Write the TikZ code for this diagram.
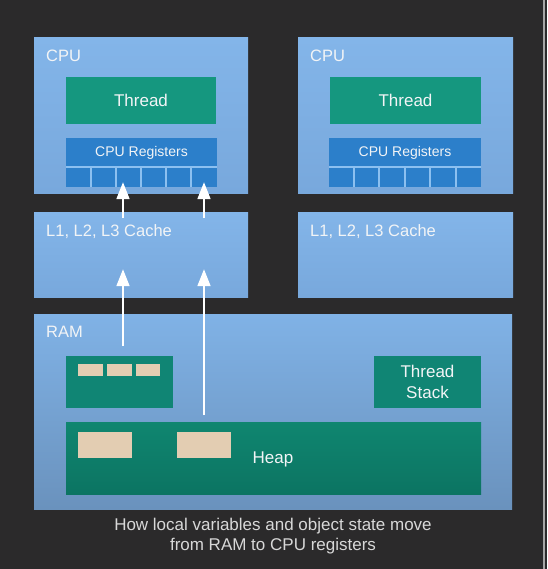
\documentclass[tikz,border=0pt]{standalone}
\usepackage{fontspec}
\setmainfont{Liberation Sans}
\usetikzlibrary{arrows.meta}
\definecolor{bgdark}{HTML}{2B2A2B}
\definecolor{boxtop}{HTML}{83B5E9}
\definecolor{boxbot}{HTML}{78A8DC}
\definecolor{ramtop}{HTML}{80B2E6}
\definecolor{rambot}{HTML}{6A92BD}
\definecolor{thrgreen}{HTML}{15977F}
\definecolor{regblue}{HTML}{2C7FCA}
\definecolor{reglines}{HTML}{8CC0F0}
\definecolor{stkgreen}{HTML}{108574}
\definecolor{heaptop}{HTML}{0F8670}
\definecolor{heapbot}{HTML}{0C7462}
\definecolor{beige}{HTML}{E3CDB2}
\definecolor{txtlight}{HTML}{F2F4F6}
\definecolor{captxt}{HTML}{D8D8D8}
\tikzset{
  rect/.style={rectangle, inner sep=0pt, outer sep=0pt, anchor=north west},
  bluebox/.style={rect, top color=boxtop, bottom color=boxbot, draw=none},
  rambox/.style={rect, top color=ramtop, bottom color=rambot, draw=none},
  thrbox/.style={rect, fill=thrgreen, draw=none},
  regbox/.style={rect, fill=regblue, draw=none},
  stkbox/.style={rect, fill=stkgreen, draw=none},
  heapbox/.style={rect, top color=heaptop, bottom color=heapbot, draw=none},
  beigebox/.style={rect, fill=beige, draw=none},
  lbl/.style={anchor=west, text=txtlight, font=\fontsize{16.5}{19}\selectfont, inner sep=0pt},
  ctr/.style={text=txtlight, inner sep=0pt, align=center},
  reggrid/.style={draw=reglines, line width=1.2pt},
  upflow/.style={draw=white, line width=2.8pt, -{Triangle[width=12.5pt,length=17pt]}},
}
\begin{document}
\begin{tikzpicture}[x=1pt,y=-1pt]
\fill[bgdark] (0,0) rectangle (547,569);
\useasboundingbox (0,0) rectangle (547,569);
\draw[draw=gray!70, line width=1.5pt] (544,0) -- (544,569);

% left CPU
\node[bluebox, minimum width=214, minimum height=156] (cpu1) at (34,38) {};
\node[lbl] (cpu1l) at (46,56) {CPU};
\node[thrbox, minimum width=150, minimum height=47] (thr1) at (66,77) {};
\node[ctr, font=\fontsize{17}{20}\selectfont] at (thr1.center) {Thread};
\node[regbox, minimum width=151, minimum height=49] (reg1) at (66,138) {};
\node[ctr, font=\fontsize{14}{17}\selectfont] at (141.5,153) {CPU Registers};
\draw[reggrid] (66,167) -- (217,167);
\foreach \x in {91,116,141,166,191} \draw[reggrid] (\x,167) -- (\x,187);

% right CPU
\node[bluebox, minimum width=215, minimum height=156] (cpu2) at (298,38) {};
\node[lbl] (cpu2l) at (310,56) {CPU};
\node[thrbox, minimum width=151, minimum height=47] (thr2) at (330,77) {};
\node[ctr, font=\fontsize{17}{20}\selectfont] at (thr2.center) {Thread};
\node[regbox, minimum width=152, minimum height=49] (reg2) at (329,138) {};
\node[ctr, font=\fontsize{14}{17}\selectfont] at (405,153) {CPU Registers};
\draw[reggrid] (329,167) -- (481,167);
\foreach \x in {354,379,405,430,456} \draw[reggrid] (\x,167) -- (\x,187);

% caches
\node[bluebox, minimum width=214, minimum height=85] (cache1) at (34,212) {};
\node[lbl] at (46,232) {L1, L2, L3 Cache};
\node[bluebox, minimum width=215, minimum height=85] (cache2) at (298,212) {};
\node[lbl] at (310,232) {L1, L2, L3 Cache};

% RAM
\node[rambox, minimum width=478, minimum height=195] (ram) at (34,314) {};
\node[lbl] at (46,332) {RAM};
\node[stkbox, minimum width=107, minimum height=52] (stk1) at (66,356) {};
\node[beigebox, minimum width=25, minimum height=12] (v1) at (78,364) {};
\node[beigebox, minimum width=25, minimum height=12] (v2) at (107,364) {};
\node[beigebox, minimum width=24, minimum height=12] (v3) at (136,364) {};
\node[stkbox, minimum width=107, minimum height=52] (tstack) at (374,356) {};
\node[ctr, font=\fontsize{17}{21}\selectfont] at (tstack.center) {Thread\\Stack};
\node[heapbox, minimum width=415, minimum height=72] (heap) at (66,422) {};
\node[beigebox, minimum width=54, minimum height=26] (o1) at (78,432) {};
\node[beigebox, minimum width=54, minimum height=26] (o2) at (177,432) {};
\node[ctr, font=\fontsize{17}{20}\selectfont] at (273,459) {Heap};

% arrows: RAM -> cache
\coordinate (a1s) at (123,346);
\coordinate (a1m) at (123,269);
\coordinate (a2s) at (204,415);
\coordinate (a2m) at (204,269);
\draw[upflow] (a1s) -- (a1m);
\draw[upflow] (a2s) -- (a2m);
% arrows: cache -> registers
\coordinate (b1s) at (123,218);
\coordinate (b1e) at (123,182);
\coordinate (b2s) at (204,218);
\coordinate (b2e) at (204,182);
\draw[upflow] (b1s) -- (b1e);
\draw[upflow] (b2s) -- (b2e);

% caption
\node[ctr, text=captxt, font=\fontsize{17}{20}\selectfont] (cap) at (273,536) {How local variables and object state move\\from RAM to CPU registers};
\end{tikzpicture}
\end{document}
